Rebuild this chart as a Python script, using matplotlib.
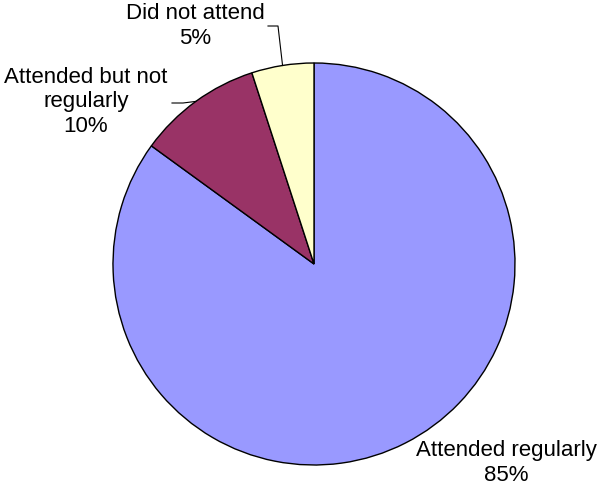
import numpy as np
import matplotlib.pyplot as plt

labels = ['Attended regularly', 'Attended but not\nregularly', 'Did not attend']
values = [85, 10, 5]
colors = ['#9999FF', '#993366', '#FFFFCC']

W, H = 599, 487
fig = plt.figure(figsize=(W / 100, H / 100), dpi=100)
ax = fig.add_axes([0, 0, 1, 1])

cx, cy, r = 314, H - 264, 201
wedges, _ = ax.pie(values, colors=colors, startangle=90, counterclock=False,
                   center=(cx, cy), radius=r, frame=True,
                   wedgeprops=dict(edgecolor='black', linewidth=1))
ax.set_xlim(0, W)
ax.set_ylim(0, H)
ax.set_aspect('equal')
ax.axis('off')

# label positions (pixel, from top) and leader elbows
label_pos = [(506, 463), (86, 102), (195, 26)]
elbows = [None, ((172, 103), (183, 103)), ((268, 26), (278, 26))]

for w, lab, v, pos, el in zip(wedges, labels, values, label_pos, elbows):
    ax.text(pos[0], H - pos[1], f'{lab}\n{v}%', ha='center', va='center',
            fontsize=16, family='Liberation Sans', linespacing=1.2)
    if el is not None:
        mid = np.deg2rad((w.theta1 + w.theta2) / 2)
        ex, ey = cx + r * np.cos(mid), cy + r * np.sin(mid)
        xs = [el[0][0], el[1][0], ex]
        ys = [H - el[0][1], H - el[1][1], ey]
        ax.plot(xs, ys, color='black', linewidth=0.8)

fig.savefig('out.png', dpi=100)
